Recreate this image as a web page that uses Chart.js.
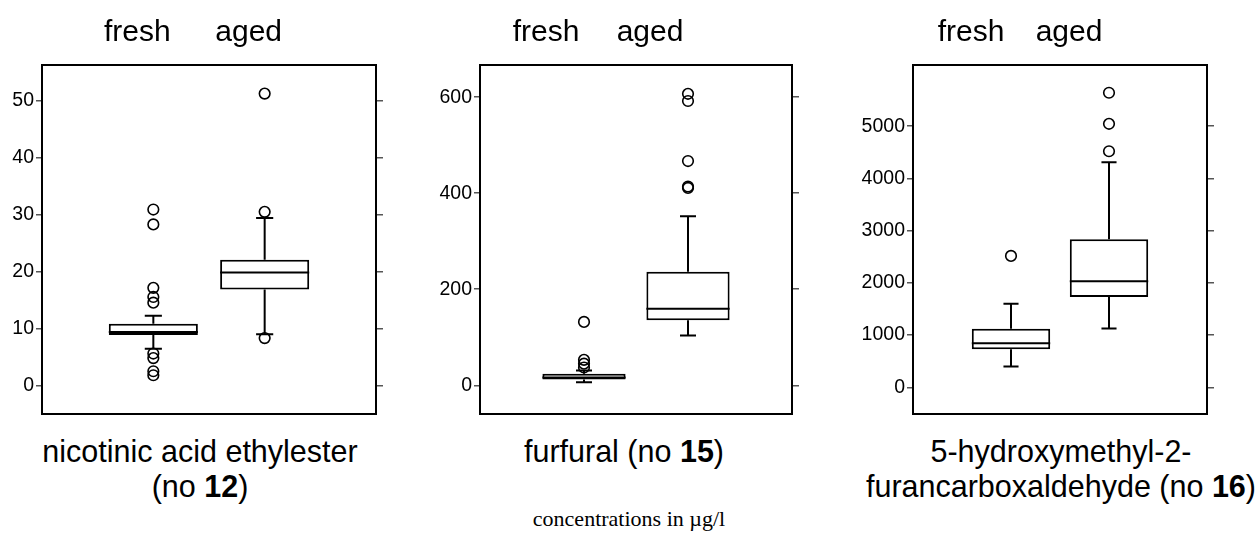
<!DOCTYPE html>
<html>
<head>
<meta charset="utf-8">
<script src="https://cdn.jsdelivr.net/npm/chart.js@4.4.1/dist/chart.umd.min.js"></script>
<style>
  body { margin: 0; background: #fff; width: 1257px; height: 535px; position: relative; overflow: hidden;
         font-family: "Liberation Sans", Arial, sans-serif; color: #000; }
  .panel { position: absolute; top: 0; height: 421px; }
  .cap { position: absolute; width: 440px; font-size: 30.5px; line-height: 35px; text-align: center; top: 434px; }
  #note { position: absolute; left: 429px; width: 400px; top: 506px; text-align: center;
          font-family: "Liberation Serif", "Times New Roman", serif; font-size: 22px; }
</style>
</head>
<body>
<div class="panel" id="p1" style="left:0;width:386px"><canvas id="c1"></canvas></div>
<div class="panel" id="p2" style="left:430px;width:372px"><canvas id="c2"></canvas></div>
<div class="panel" id="p3" style="left:853px;width:364px"><canvas id="c3"></canvas></div>

<div class="cap" style="left:-20px">nicotinic acid ethylester<br>(no <b>12</b>)</div>
<div class="cap" style="left:404px">furfural (no <b>15</b>)</div>
<div class="cap" style="left:841px">5-hydroxymethyl-2-<br>furancarboxaldehyde (no <b>16</b>)</div>
<div id="note">concentrations in µg/l</div>

<script>
const groups = ['fresh', 'aged']

// nicotinic acid ethylester (no 12)
const nicQ1 = [8.95, 16.9]
const nicMedian = [9.47, 19.9]
const nicQ3 = [10.93, 22.1]
const nicLow = [6.55, 9.06]
const nicHigh = [12.3, 29.4]
const nicOutFresh = [30.9, 28.3, 17.2, 15.6, 14.6, 5.7, 4.9, 2.6, 1.9]
const nicOutAged = [51.2, 30.5, 8.4]
const nicTicks = [0, 10, 20, 30, 40, 50]
const nicRange = [-4.9, 56.2]

// furfural (no 15)
const furQ1 = [11.9, 135.7]
const furMedian = [16, 159.4]
const furQ3 = [24, 236.6]
const furLow = [6.3, 103.7]
const furHigh = [30.7, 352]
const furOutFresh = [132, 53, 45, 37]
const furOutAged = [607, 592, 467, 414, 411]
const furTicks = [0, 200, 400, 600]
const furRange = [-60, 667]

// 5-hydroxymethyl-2-furancarboxaldehyde (no 16)
const hmfQ1 = [730, 1729]
const hmfMedian = [845, 2029]
const hmfQ3 = [1120, 2836]
const hmfLow = [397, 1127]
const hmfHigh = [1600, 4308]
const hmfOutFresh = [2516]
const hmfOutAged = [5640, 5045, 4520]
const hmfTicks = [0, 1000, 2000, 3000, 4000, 5000]
const hmfRange = [-513, 6171]

const BOX_HALF = 0.4
const CAP_HALF = 0.077

// whiskers, caps and median as broken line segments
function boxLines(q1, med, q3, lo, hi) {
  const pts = []
  q1.forEach((_, i) => {
    const x = i + 1
    const segs = [
      [x, q3[i], x, hi[i]],
      [x, q1[i], x, lo[i]],
      [x - CAP_HALF, hi[i], x + CAP_HALF, hi[i]],
      [x - CAP_HALF, lo[i], x + CAP_HALF, lo[i]],
      [x - BOX_HALF, med[i], x + BOX_HALF, med[i]]
    ]
    segs.forEach(([x1, y1, x2, y2]) => {
      pts.push({ x: x1, y: y1 }, { x: x2, y: y2 }, { x: x2, y: null })
    })
  })
  return pts
}

function makePanel(id, p) {
  const tickList = p.ticks.map(v => ({ value: v }))
  const outliers = [
    ...p.outFresh.map(v => ({ x: 1, y: v })),
    ...p.outAged.map(v => ({ x: 2, y: v }))
  ]

  return new Chart(document.getElementById(id), {
    type: 'bar',
    data: {
      datasets: [
        {
          type: 'line',
          data: outliers,
          showLine: false,
          pointRadius: 5.3,
          pointBorderWidth: 1.6,
          pointBorderColor: '#000',
          pointBackgroundColor: 'rgba(255,255,255,0)',
          xAxisID: 'x',
          yAxisID: 'y',
          order: 0
        },
        {
          type: 'line',
          data: boxLines(p.q1, p.median, p.q3, p.low, p.high),
          borderColor: '#000',
          borderWidth: 2,
          pointRadius: 0,
          spanGaps: false,
          fill: false,
          xAxisID: 'x',
          yAxisID: 'y',
          order: 1
        },
        {
          type: 'bar',
          data: p.q1.map((v, i) => ({ x: i + 1, y: [v, p.q3[i]] })),
          backgroundColor: '#fff',
          borderColor: '#000',
          borderWidth: 2,
          borderSkipped: false,
          barPercentage: 0.8,
          categoryPercentage: 1,
          xAxisID: 'x',
          yAxisID: 'y',
          order: 2
        }
      ]
    },
    options: {
      responsive: true,
      maintainAspectRatio: false,
      animation: false,
      layout: { padding: 0 },
      plugins: { legend: { display: false }, tooltip: { enabled: false } },
      scales: {
        x: {
          type: 'linear',
          position: 'top',
          min: 0,
          max: 3,
          offset: false,
          afterBuildTicks: s => { s.ticks = [{ value: 1 }, { value: 2 }] },
          afterFit: s => { s.height = 65 },
          ticks: {
            callback: v => groups[v - 1],
            font: { family: 'Liberation Sans', size: 30 },
            color: '#000',
            padding: 14,
            labelOffset: p.labelOffset,
            maxRotation: 0
          },
          grid: { drawOnChartArea: false, drawTicks: false, offset: false },
          border: { color: '#000', width: 2 }
        },
        xb: {
          type: 'linear',
          position: 'bottom',
          min: 0,
          max: 3,
          afterFit: s => { s.height = 2 },
          ticks: { display: false },
          grid: { display: false },
          border: { color: '#000', width: 2 }
        },
        y: {
          type: 'linear',
          position: 'left',
          min: p.range[0],
          max: p.range[1],
          afterBuildTicks: s => { s.ticks = tickList.map(t => ({ ...t })) },
          afterFit: s => { s.width = p.leftWidth; s.paddingTop = 0; s.paddingBottom = 0 },
          ticks: {
            callback: v => String(v),
            font: { family: 'Liberation Sans', size: 19.5 },
            color: '#000',
            padding: 2
          },
          grid: { drawOnChartArea: false, tickLength: 6, color: '#555', lineWidth: 1.5 },
          border: { color: '#000', width: 2 }
        },
        y1: {
          type: 'linear',
          position: 'right',
          min: p.range[0],
          max: p.range[1],
          afterBuildTicks: s => { s.ticks = tickList.map(t => ({ ...t })) },
          afterFit: s => { s.width = 10; s.paddingTop = 0; s.paddingBottom = 0 },
          ticks: { display: false },
          grid: { drawOnChartArea: false, tickLength: 7, color: '#555', lineWidth: 1.5 },
          border: { color: '#000', width: 2 }
        }
      }
    }
  })
}

makePanel('c1', {
  q1: nicQ1, median: nicMedian, q3: nicQ3, low: nicLow, high: nicHigh,
  outFresh: nicOutFresh, outAged: nicOutAged, ticks: nicTicks, range: nicRange,
  leftWidth: 42, labelOffset: -16
})
makePanel('c2', {
  q1: furQ1, median: furMedian, q3: furQ3, low: furLow, high: furHigh,
  outFresh: furOutFresh, outAged: furOutAged, ticks: furTicks, range: furRange,
  leftWidth: 50, labelOffset: -38
})
makePanel('c3', {
  q1: hmfQ1, median: hmfMedian, q3: hmfQ3, low: hmfLow, high: hmfHigh,
  outFresh: hmfOutFresh, outAged: hmfOutAged, ticks: hmfTicks, range: hmfRange,
  leftWidth: 60, labelOffset: -40
})
</script>
</body>
</html>
